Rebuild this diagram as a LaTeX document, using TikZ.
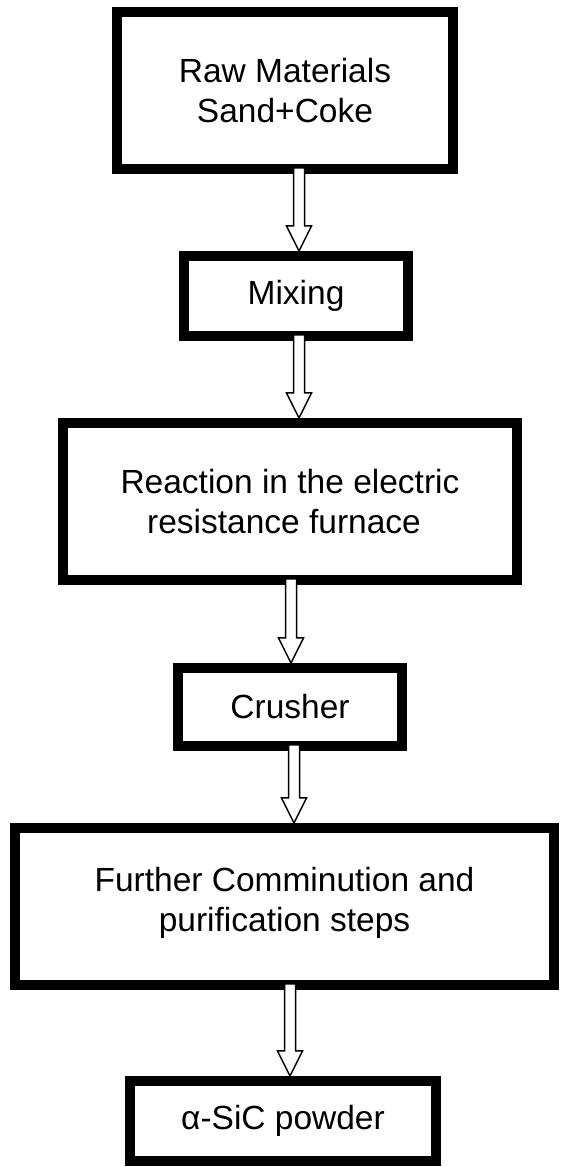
\documentclass[tikz,border=0pt]{standalone}
\usepackage{fontspec}
\setmainfont{Liberation Sans}
\usetikzlibrary{calc}
\tikzset{
  procbox/.style={draw=black, line width=10pt, inner sep=0pt, outer sep=5pt,
    align=center, font=\fontsize{33.5}{40}\selectfont, fill=white},
  harrowline/.style={draw=black, line width=1.5pt, fill=white, line join=miter}
}
\newcommand{\hollowarrow}[3]{%
  \draw[harrowline] let \p1=(#2.south), \p2=(#3.north) in
    (#1pt-5.5pt,\y1+6pt) -- (#1pt-5.5pt,\y2+25pt) -- (#1pt-12.5pt,\y2+25pt) --
    (#1pt,\y2) -- (#1pt+12.5pt,\y2+25pt) -- (#1pt+5.5pt,\y2+25pt) --
    (#1pt+5.5pt,\y1+6pt) -- cycle;}
\begin{document}
\begin{tikzpicture}[x=1pt,y=1pt]
\fill[white] (0,0) rectangle (563,1167);
\useasboundingbox (0,0) rectangle (563,1167);
\node[procbox, minimum width=336pt, minimum height=157pt] (b1) at (285,1076.5) {Raw Materials\\Sand+Coke};
\node[procbox, minimum width=224pt, minimum height=80pt] (b2) at (296,871) {Mixing};
\node[procbox, minimum width=454pt, minimum height=157pt] (b3) at (290,665.5) {Reaction in the electric\\resistance furnace\hspace*{12pt}};
\node[procbox, minimum width=224pt, minimum height=78pt] (b4) at (290,460) {Crusher};
\node[procbox, minimum width=539pt, minimum height=157pt] (b5) at (284.5,260.5) {Further Comminution and\\purification steps\hspace*{19pt}\\[-26pt]\mbox{}};
\node[procbox, minimum width=306pt, minimum height=80pt] (b6) at (283,46) {α-SiC powder};
\hollowarrow{299}{b1}{b2}
\hollowarrow{299}{b2}{b3}
\hollowarrow{291}{b3}{b4}
\hollowarrow{294}{b4}{b5}
\hollowarrow{290}{b5}{b6}
\end{tikzpicture}
\end{document}
